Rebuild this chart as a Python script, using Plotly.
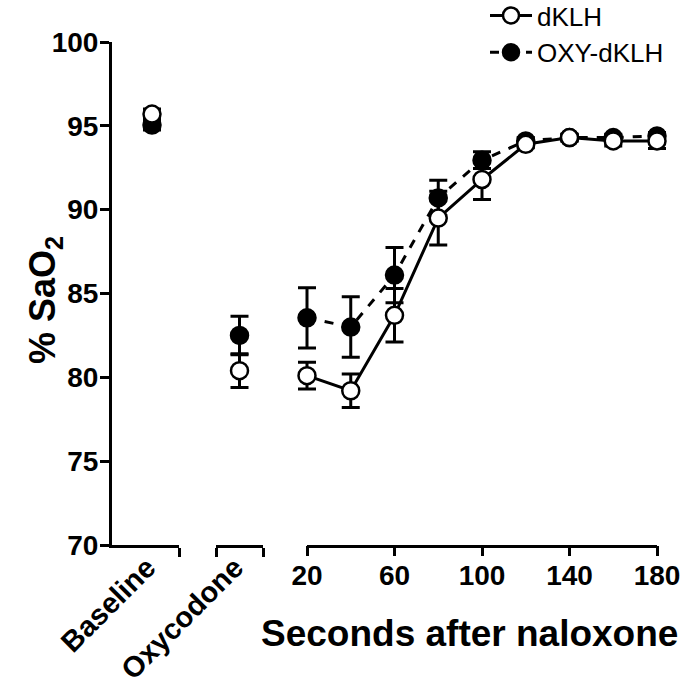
import plotly.graph_objects as go

# ---- data ----
seconds = [20, 40, 60, 80, 100, 120, 140, 160, 180]
dklh_mean = [80.1, 79.2, 83.7, 89.5, 91.8, 93.9, 94.3, 94.1, 94.1]
dklh_sem = [0.8, 1.0, 1.6, 1.6, 1.2, 0.2, 0.2, 0.3, 0.45]
oxy_mean = [83.55, 83.0, 86.1, 90.7, 92.95, 94.1, 94.3, 94.3, 94.4]
oxy_sem = [1.8, 1.8, 1.65, 1.05, 0.5, 0.2, 0.2, 0.2, 0.2]

baseline_dklh, baseline_dklh_sem = 95.7, 0.3
baseline_oxy, baseline_oxy_sem = 95.05, 0.3
oxycodone_dklh, oxycodone_dklh_sem = 80.4, 1.0
oxycodone_oxy, oxycodone_oxy_sem = 82.5, 1.15

y_ticks = [70, 75, 80, 85, 90, 95, 100]
x_ticks = [20, 60, 100, 140, 180]

FONT = "Liberation Sans, Arial, Helvetica, sans-serif"
BLACK = "black"
MS = 17

def err(v):
    return dict(type="data", array=v, color=BLACK, thickness=3, width=9)

open_marker = dict(symbol="circle", size=MS, color="white", line=dict(color=BLACK, width=2.5))
fill_marker = dict(symbol="circle", size=MS, color=BLACK, line=dict(color=BLACK, width=2.5))

fig = go.Figure()

# OXY-dKLH drawn first (beneath)
fig.add_trace(go.Scatter(x=[0], y=[baseline_oxy], xaxis="x", yaxis="y", mode="markers",
                         marker=fill_marker, error_y=err([baseline_oxy_sem]),
                         showlegend=False, cliponaxis=False))
fig.add_trace(go.Scatter(x=[0], y=[oxycodone_oxy], xaxis="x2", yaxis="y", mode="markers",
                         marker=fill_marker, error_y=err([oxycodone_oxy_sem]),
                         showlegend=False, cliponaxis=False))
fig.add_trace(go.Scatter(x=seconds, y=oxy_mean, xaxis="x3", yaxis="y", mode="lines+markers",
                         name="OXY-dKLH", legendrank=2,
                         line=dict(color=BLACK, width=3, dash="dash"),
                         marker=fill_marker, error_y=err(oxy_sem), cliponaxis=False))

# dKLH
fig.add_trace(go.Scatter(x=[0], y=[baseline_dklh], xaxis="x", yaxis="y", mode="markers",
                         marker=open_marker, error_y=err([baseline_dklh_sem]),
                         showlegend=False, cliponaxis=False))
fig.add_trace(go.Scatter(x=[0], y=[oxycodone_dklh], xaxis="x2", yaxis="y", mode="markers",
                         marker=open_marker, error_y=err([oxycodone_dklh_sem]),
                         showlegend=False, cliponaxis=False))
fig.add_trace(go.Scatter(x=seconds, y=dklh_mean, xaxis="x3", yaxis="y", mode="lines+markers",
                         name="dKLH", legendrank=1,
                         line=dict(color=BLACK, width=3),
                         marker=open_marker, error_y=err(dklh_sem), cliponaxis=False))

W, H = 684, 689
L, R, T, B = 112, 16, 42, 144
pw = W - L - R
ph = H - T - B
def px(xpage):
    return (xpage - L) / pw
def py(ypage):
    return (H - B - ypage) / ph

# main axis: 20 -> 307 px, 180 -> 657 px, padded range so error caps are not clipped
main_range = [15, 185]
scale = (657 - 307) / (180 - 20)
main_left = 307 - (20 - main_range[0]) * scale
main_right = 657 + (main_range[1] - 180) * scale

tickfont = dict(family=FONT, size=28, color=BLACK, weight="bold")
catfont = dict(family=FONT, size=29, color=BLACK, weight="bold")

common_x = dict(showgrid=False, zeroline=False, anchor="y", fixedrange=True, automargin=False)

fig.update_layout(
    width=W, height=H,
    margin=dict(l=L, r=R, t=T, b=B, autoexpand=False),
    paper_bgcolor="white", plot_bgcolor="white",
    font=dict(family=FONT, color=BLACK),
    xaxis=dict(domain=[0, px(179)], range=[-1, 0.675],
               showline=True, linecolor=BLACK, linewidth=3,
               tickmode="array", tickvals=[-0.12], ticktext=["Baseline"], tickangle=-45,
               ticks="", tickfont=catfont, ticklabelstandoff=-9,
               minor=dict(tickmode="array", tickvals=[0.675], ticks="outside", ticklen=9,
                          tickwidth=3, tickcolor=BLACK),
               **common_x),
    xaxis2=dict(domain=[px(216), px(263)], range=[-1, 1],
                showline=True, linecolor=BLACK, linewidth=3,
                tickmode="array", tickvals=[-0.2], ticktext=["Oxycodone"], tickangle=-45,
                ticks="", tickfont=catfont, ticklabelstandoff=-9,
                minor=dict(tickmode="array", tickvals=[-1, 1], ticks="outside", ticklen=9,
                           tickwidth=3, tickcolor=BLACK),
                **common_x),
    xaxis3=dict(domain=[px(main_left), min(1, px(main_right))], range=main_range,
                showline=False,
                tickmode="array", tickvals=x_ticks, ticktext=[str(v) for v in x_ticks],
                ticks="outside", ticklen=10, tickwidth=3, tickcolor=BLACK, tickangle=0,
                tickfont=tickfont, ticklabelstandoff=-5, **common_x),
    yaxis=dict(domain=[0, 1], range=[70, 100], anchor="x",
               tickmode="array", tickvals=y_ticks, ticktext=[str(v) for v in y_ticks],
               ticks="outside", ticklen=9, tickwidth=3, tickcolor=BLACK,
               showline=True, linecolor=BLACK, linewidth=3, showgrid=False, zeroline=False,
               tickfont=tickfont, ticklabelstandoff=-4, automargin=False,
               fixedrange=True),
    shapes=[dict(type="line", xref="x3", yref="paper",
                 x0=x_ticks[0], x1=x_ticks[-1], y0=-1.5 / ph, y1=-1.5 / ph,
                 line=dict(color=BLACK, width=3), layer="above")],
    legend=dict(x=px(485), y=py(-8), xanchor="left", yanchor="top",
                font=dict(family=FONT, size=26, color=BLACK),
                bgcolor="rgba(0,0,0,0)", borderwidth=0, itemsizing="trace", itemwidth=42,
                tracegroupgap=0),
    showlegend=True,
    annotations=[
        dict(text="Seconds after naloxone", xref="paper", yref="paper",
             x=px(469), y=py(633), xanchor="center", yanchor="middle", showarrow=False,
             font=dict(family=FONT, size=37, color=BLACK, weight="bold")),
        dict(text="% SaO<sub>2</sub>", xref="paper", yref="paper",
             x=px(45), y=py(300), xanchor="center", yanchor="middle", showarrow=False,
             textangle=-90,
             font=dict(family=FONT, size=36, color=BLACK, weight="bold")),
    ],
)

fig.write_html("out.html", config={"displayModeBar": False},
               post_script="document.body.style.margin='0px';")
